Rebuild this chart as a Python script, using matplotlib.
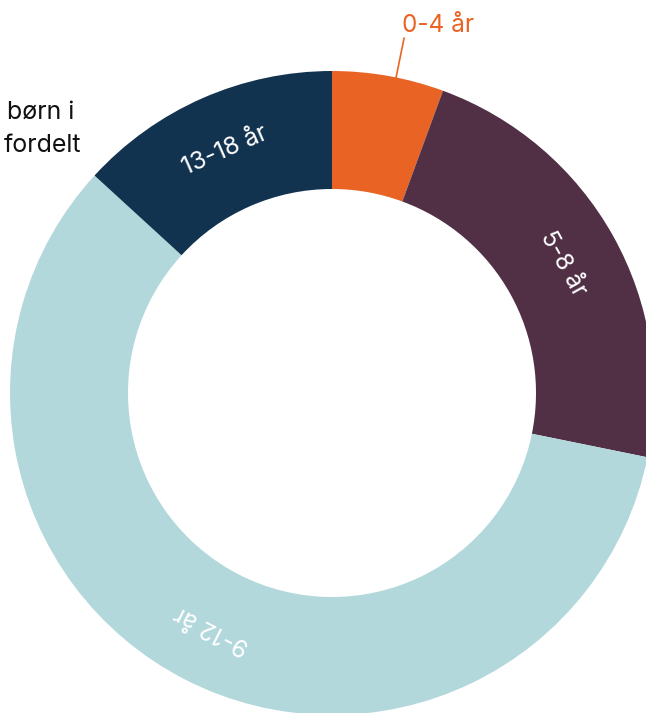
import numpy as np
import matplotlib
matplotlib.use("Agg")
import matplotlib.pyplot as plt

# age groups and shares (%)
groups = ["0-4 år", "5-8 år", "9-12 år", "13-18 år"]
shares = [5.6, 22.6, 58.6, 13.2]
colors = ["#E96424", "#513045", "#B3D8DC", "#12334F"]

plt.rcParams["font.family"] = ["Inter", "DejaVu Sans"]

W, H = 646, 713
fig = plt.figure(figsize=(W / 100, H / 100), dpi=100)
ax = fig.add_axes([0, 0, 1, 1])

cx, cy = 332, H - 393
r_out, r_in = 322, 204

wedges, _ = ax.pie(
    shares,
    colors=colors,
    startangle=90,
    counterclock=False,
    radius=r_out,
    center=(cx, cy),
    wedgeprops=dict(width=r_out - r_in, linewidth=0),
    frame=True,
)
ax.set_xlim(0, W)
ax.set_ylim(0, H)
ax.axis("off")

r_mid = (r_out + r_in) / 2 + 2
for w, name in zip(wedges, groups):
    phi = (w.theta1 + w.theta2) / 2
    rad = np.deg2rad(phi)
    if name == "0-4 år":
        # small slice: label outside with a leader line
        a = np.deg2rad(phi - 1.4)
        ax.plot([cx + r_out * np.cos(a), cx + 362 * np.cos(a)],
                [cy + r_out * np.sin(a), cy + 362 * np.sin(a)],
                color=colors[0], lw=1.2)
        ax.text(402, H - 25, name, color=colors[0], fontsize=17.5,
                ha="left", va="center")
        continue
    ax.text(cx + r_mid * np.cos(rad), cy + r_mid * np.sin(rad), name,
            color="white", fontsize=17.5, ha="center", va="center",
            rotation=phi - 90, rotation_mode="anchor")

ax.text(7, H - 112, "børn i", fontsize=18, color="#111111",
        ha="left", va="center")
ax.text(4, H - 145, "fordelt", fontsize=18, color="#111111",
        ha="left", va="center")

fig.savefig("out.png", dpi=100)
